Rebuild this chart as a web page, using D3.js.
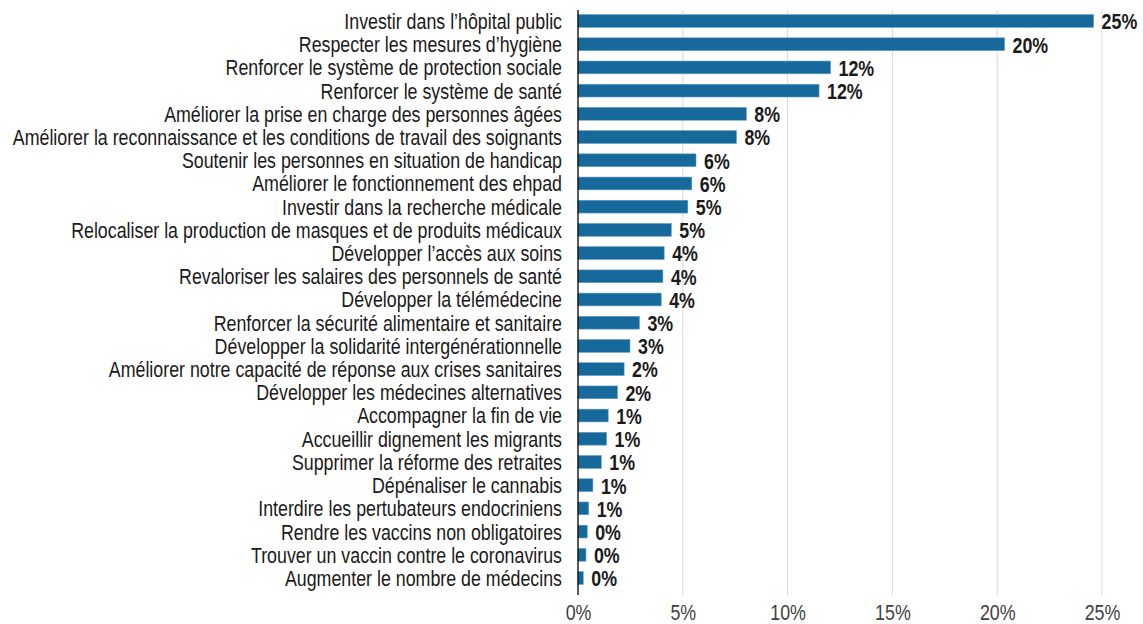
<!DOCTYPE html>
<html>
<head>
<meta charset="utf-8">
<script src="https://cdn.jsdelivr.net/npm/d3@7"></script>
<style>
    body { margin: 0; background: #fff; }
    svg { display: block; }
</style>
</head>
<body>
<svg class="bar-chart" width="1143" height="624"></svg>
<script>
// Categories, top to bottom
const categories = [
    "Investir dans l\u2019hôpital public",
    "Respecter les mesures d\u2019hygiène",
    "Renforcer le système de protection sociale",
    "Renforcer le système de santé",
    "Améliorer la prise en charge des personnes âgées",
    "Améliorer la reconnaissance et les conditions de travail des soignants",
    "Soutenir les personnes en situation de handicap",
    "Améliorer le fonctionnement des ehpad",
    "Investir dans la recherche médicale",
    "Relocaliser la production de masques et de produits médicaux",
    "Développer l\u2019accès aux soins",
    "Revaloriser les salaires des personnels de santé",
    "Développer la télémédecine",
    "Renforcer la sécurité alimentaire et sanitaire",
    "Développer la solidarité intergénérationnelle",
    "Améliorer notre capacité de réponse aux crises sanitaires",
    "Développer les médecines alternatives",
    "Accompagner la fin de vie",
    "Accueillir dignement les migrants",
    "Supprimer la réforme des retraites",
    "Dépénaliser le cannabis",
    "Interdire les pertubateurs endocriniens",
    "Rendre les vaccins non obligatoires",
    "Trouver un vaccin contre le coronavirus",
    "Augmenter le nombre de médecins"
];

// Share of answers (%)
const values = [24.6, 20.35, 12.05, 11.5, 8.03, 7.56, 5.63, 5.43, 5.24, 4.45, 4.11, 4.05, 3.97,
    2.93, 2.48, 2.2, 1.88, 1.44, 1.36, 1.11, 0.71, 0.51, 0.44, 0.38, 0.25];

// Labels printed next to the bars
const valueLabels = ["25%", "20%", "12%", "12%", "8%", "8%", "6%", "6%", "5%", "5%", "4%", "4%", "4%",
    "3%", "3%", "2%", "2%", "1%", "1%", "1%", "1%", "1%", "0%", "0%", "0%"];

// x axis ticks
const xTicks = [0, 5, 10, 15, 20, 25];

const data = categories.map((c, i) => ({cat: c, value: values[i], label: valueLabels[i]}));

let svg = d3.select('.bar-chart');

const cfg = {
    left: 578,
    right: 1102,
    top: 9.4,
    bottom: 589.6,
    axisBottom: 595,
    font: '"Liberation Sans", Arial, sans-serif',
    fontSize: 22,
    narrow: 0.81   // horizontal squeeze to get a narrow face
};

const xScale = d3.scaleLinear()
    .domain([0, 25])
    .range([cfg.left, cfg.right]);

const yScale = d3.scaleBand()
    .domain(categories)
    .range([cfg.top, cfg.bottom])
    .paddingInner(0.45)
    .paddingOuter(0.225);

// gridlines
svg.append('g')
    .attr('class', 'grid')
    .selectAll('line')
    .data(xTicks.slice(1))
    .enter()
    .append('line')
    .attr('x1', (d) => xScale(d))
    .attr('x2', (d) => xScale(d))
    .attr('y1', 10)
    .attr('y2', cfg.axisBottom)
    .attr('stroke', '#d9d9d9')
    .attr('stroke-width', 1);

// x axis labels (no tick marks)
let xAxis = svg.append('g')
    .attr('transform', `translate(0,${cfg.axisBottom})`)
    .call(d3.axisBottom(xScale).tickValues(xTicks).tickFormat((d) => d + '%').tickSize(0).tickPadding(9));
xAxis.select('.domain').remove();
xAxis.selectAll('.tick text')
    .attr('font-family', cfg.font)
    .attr('font-size', cfg.fontSize)
    .attr('fill', '#404040')
    .attr('transform', `scale(${cfg.narrow},1)`);

// bars
svg.append('g')
    .selectAll('rect')
    .data(data)
    .enter()
    .append('rect')
    .attr('x', xScale(0))
    .attr('y', (d) => yScale(d.cat))
    .attr('width', (d) => xScale(d.value) - xScale(0))
    .attr('height', yScale.bandwidth())
    .attr('fill', '#17699b')
    .attr('stroke', '#5c9cc6')
    .attr('stroke-width', 0.6);

// vertical axis line
svg.append('line')
    .attr('x1', xScale(0))
    .attr('x2', xScale(0))
    .attr('y1', 10)
    .attr('y2', cfg.axisBottom)
    .attr('stroke', '#000')
    .attr('stroke-width', 1.3);

// category labels
svg.append('g')
    .selectAll('text')
    .data(data)
    .enter()
    .append('text')
    .attr('transform', (d) => `translate(${xScale(0) - 16},${yScale(d.cat) + yScale.bandwidth() / 2}) scale(${cfg.narrow},1)`)
    .attr('dy', '0.36em')
    .attr('text-anchor', 'end')
    .attr('font-family', cfg.font)
    .attr('font-size', cfg.fontSize)
    .attr('fill', '#1a1a1a')
    .text((d) => d.cat);

// value labels
svg.append('g')
    .selectAll('text')
    .data(data)
    .enter()
    .append('text')
    .attr('transform', (d) => `translate(${xScale(d.value) + 8},${yScale(d.cat) + yScale.bandwidth() / 2}) scale(${cfg.narrow},1)`)
    .attr('dy', '0.38em')
    .attr('font-family', cfg.font)
    .attr('font-size', cfg.fontSize)
    .attr('font-weight', 'bold')
    .attr('fill', '#1a1a1a')
    .text((d) => d.label);
</script>
</body>
</html>
